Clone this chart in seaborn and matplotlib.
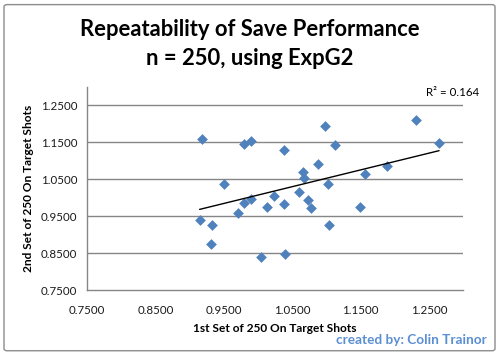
import numpy as np
import pandas as pd
import seaborn as sns
import matplotlib.pyplot as plt
from matplotlib.patches import FancyBboxPatch

# Save performance ratio, first vs second set of 250 on-target shots
first_set = [0.9187, 0.9800, 0.9905, 1.0386, 0.9510, 0.9147, 0.9332, 0.9308,
             0.9716, 0.9790, 0.9905, 1.0134, 1.0230, 1.0386, 1.0047, 1.0400,
             1.0984, 1.1134, 1.0886, 1.0653, 1.0668, 1.0605, 1.0726, 1.0780,
             1.1030, 1.1047, 1.1500, 1.1570, 1.1888, 1.2315, 1.2650]
second_set = [1.160, 1.145, 1.154, 1.130, 1.036, 0.939, 0.925, 0.876,
              0.960, 0.987, 0.996, 0.976, 1.006, 0.982, 0.839, 0.847,
              1.193, 1.142, 1.091, 1.070, 1.054, 1.015, 0.993, 0.971,
              1.036, 0.925, 0.974, 1.064, 1.085, 1.211, 1.149]
ticks = [0.75, 0.85, 0.95, 1.05, 1.15, 1.25]

df = pd.DataFrame({'first': first_set, 'second': second_set})

sns.set_style('white')
plt.rcParams['font.family'] = ['Lato', 'DejaVu Sans']
plt.rcParams['text.color'] = 'black'
plt.rcParams['axes.labelcolor'] = 'black'

fig = plt.figure(figsize=(5, 3.55), dpi=100)
ax = fig.add_axes([0.174, 0.183, 0.752, 0.572])

# outer chart frame
fig.patches.append(FancyBboxPatch((0.008, 0.012), 0.982, 0.975, boxstyle='round,pad=0,rounding_size=0.006',
                                  transform=fig.transFigure, fill=False, edgecolor='#8c8c8c', linewidth=1))

sns.regplot(data=df, x='first', y='second', ax=ax, ci=None, marker='D',
            scatter_kws={'s': 30, 'color': '#4f81bd', 'edgecolor': '#4f81bd', 'linewidths': 0, 'zorder': 3, 'alpha': 1},
            line_kws={'color': 'black', 'linewidth': 1, 'zorder': 4})

ax.set_xlim(0.75, 1.30)
ax.set_ylim(0.75, 1.30)
ax.set_xticks(ticks)
ax.set_yticks(ticks)
ax.set_xticklabels([f'{t:.4f}' for t in ticks])
ax.set_yticklabels([f'{t:.4f}' for t in ticks])
for t in ticks[1:]:
    ax.axhline(t, color='#868686', linewidth=1, zorder=1)

for side in ['top', 'right']:
    ax.spines[side].set_visible(False)
for side in ['left', 'bottom']:
    ax.spines[side].set_color('#868686')
    ax.spines[side].set_linewidth(1)
ax.tick_params(axis='both', direction='out', length=4, width=1, color='#868686',
               labelsize=8.3, labelcolor='#1a1a1a', pad=3)
ax.tick_params(axis='x', pad=7)

ax.set_xlabel('1st Set of 250 On Target Shots', fontsize=8.6, fontweight='bold', labelpad=5)
ax.set_ylabel('2nd Set of 250 On Target Shots', fontsize=8.6, fontweight='bold', labelpad=5)

fig.text(0.5, 0.918, 'Repeatability of Save Performance', ha='center', va='center',
         fontsize=15.8, fontweight='bold')
fig.text(0.5, 0.836, 'n = 250, using ExpG2', ha='center', va='center',
         fontsize=15.8, fontweight='bold')
fig.text(0.958, 0.74, 'R² = 0.164', ha='right', va='center', fontsize=8.3)
fig.text(0.974, 0.042, 'created by: Colin Trainor', ha='right', va='center',
         fontsize=9.8, fontweight='bold', color='#5b8fd3')

fig.savefig('out.png', dpi=100)
